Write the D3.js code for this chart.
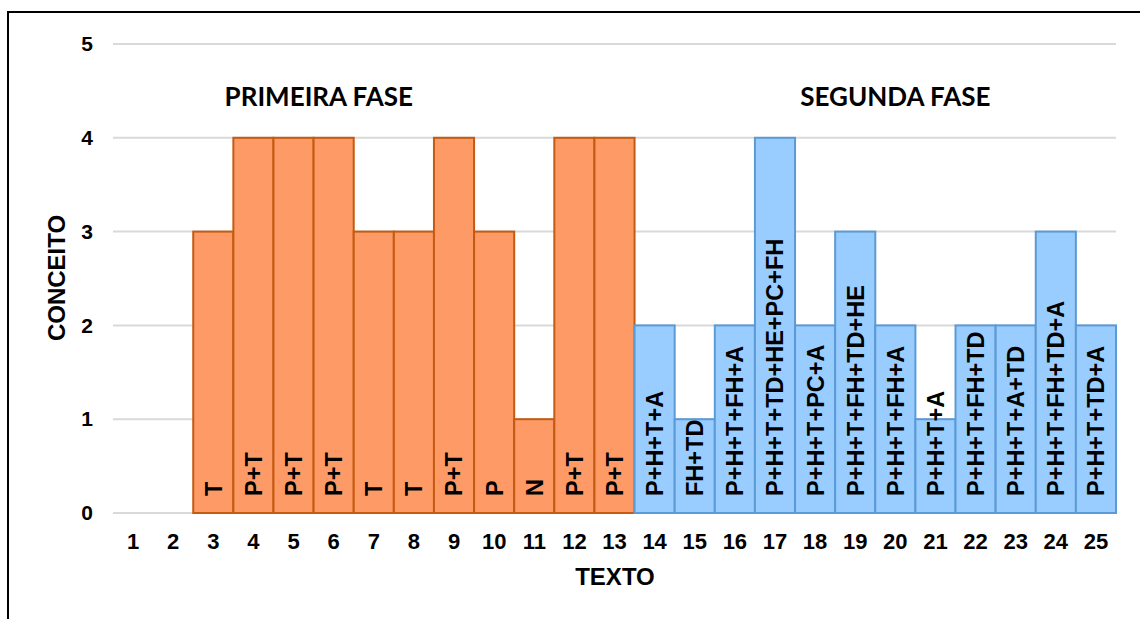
<!DOCTYPE html>
<html><head><meta charset="utf-8">
<script src="https://cdn.jsdelivr.net/npm/d3@7"></script>
<style>body{margin:0;background:#fff}svg{display:block}</style>
</head><body>
<svg id="c" width="1140" height="619"></svg>
<script>
const categories = ["1","2","3","4","5","6","7","8","9","10","11","12","13","14","15","16","17","18","19","20","21","22","23","24","25"];
const values = [0,0,3,4,4,4,3,3,4,3,1,4,4,2,1,2,4,2,3,2,1,2,2,3,2];
const phases = ["","","1","1","1","1","1","1","1","1","1","1","1","2","2","2","2","2","2","2","2","2","2","2","2"];
const barLabels = ["","","T","P+T","P+T","P+T","T","T","P+T","P","N","P+T","P+T",
  "P+H+T+A","FH+TD","P+H+T+FH+A","P+H+T+TD+HE+PC+FH","P+H+T+PC+A","P+H+T+FH+TD+HE","P+H+T+FH+A","P+H+T+A","P+H+T+FH+TD","P+H+T+A+TD","P+H+T+FH+TD+A","P+H+T+TD+A"];
const yTicks = [0,1,2,3,4,5];
const phaseNames = ["PRIMEIRA FASE","SEGUNDA FASE"];
const phaseCenters = [5.63, 20]; // position in category units (1 = first category centre)

const svg = d3.select("#c");
const x = d3.scaleBand().domain(categories).range([113,1116]).padding(0);
const y = d3.scaleLinear().domain([0,5]).range([513,44]);
const pos = d3.scaleLinear().domain([1,25]).range([x("1")+x.bandwidth()/2, x("25")+x.bandwidth()/2]);
const data = categories.map((c,i)=>({c, v:values[i], p:phases[i], l:barLabels[i]}));

// frame
svg.append("rect").attr("x",8).attr("y",12).attr("width",1150).attr("height",640)
  .attr("fill","none").attr("stroke","#000").attr("stroke-width",2);

// grid
svg.append("g").selectAll("line").data(yTicks).join("line")
  .attr("x1",113).attr("x2",1116).attr("y1",d=>y(d)).attr("y2",d=>y(d))
  .attr("stroke","#d9d9d9").attr("stroke-width",2);

// bars
const fills = {"1":"#fd9a66","2":"#99ccff"};
const strokes = {"1":"#c55a11","2":"#5b9bd5"};
svg.append("g").selectAll("rect").data(data.filter(d=>d.v>0)).join("rect")
  .attr("x",d=>x(d.c)).attr("width",x.bandwidth())
  .attr("y",d=>y(d.v)).attr("height",d=>y(0)-y(d.v))
  .attr("fill",d=>fills[d.p]).attr("stroke",d=>strokes[d.p]).attr("stroke-width",2);

// bar labels
svg.append("g").selectAll("text").data(data.filter(d=>d.l)).join("text")
  .attr("transform",d=>`translate(${x(d.c)+x.bandwidth()/2},496) rotate(-90)`)
  .attr("dy","0.36em").attr("text-anchor","start")
  .attr("font-family","Liberation Sans, Arial, sans-serif").attr("font-weight","bold")
  .attr("font-size",23.5).attr("fill","#000").text(d=>d.l);

// y axis
const ya = svg.append("g").attr("transform","translate(93,0)")
  .call(d3.axisLeft(y).tickValues(yTicks).tickSize(0).tickPadding(0).tickFormat(d3.format("d")));
ya.select(".domain").remove();
ya.selectAll("text").attr("font-family","Liberation Sans, Arial, sans-serif")
  .attr("font-weight","bold").attr("font-size",21).attr("fill","#000");

// x axis
const xa = svg.append("g").attr("transform","translate(0,528)")
  .call(d3.axisBottom(x).tickSize(0).tickPadding(0));
xa.select(".domain").remove();
xa.selectAll("text").attr("font-family","Liberation Sans, Arial, sans-serif")
  .attr("font-weight","bold").attr("font-size",22).attr("fill","#000").attr("dy","0.95em");

// axis titles
svg.append("text").attr("x",615).attr("y",585).attr("text-anchor","middle")
  .attr("font-family","Liberation Sans, Arial, sans-serif").attr("font-weight","bold")
  .attr("font-size",24).text("TEXTO");
svg.append("text").attr("transform","translate(65,278) rotate(-90)").attr("text-anchor","middle")
  .attr("font-family","Liberation Sans, Arial, sans-serif").attr("font-weight","bold")
  .attr("font-size",24).text("CONCEITO");

// phase titles
svg.append("g").selectAll("text").data(phaseNames).join("text")
  .attr("x",(d,i)=>pos(phaseCenters[i]))
  .attr("y",106).attr("text-anchor","middle")
  .attr("font-family","Lato, sans-serif").attr("font-weight","bold")
  .attr("font-size",26).attr("fill","#000").text(d=>d);
</script>
</body></html>
